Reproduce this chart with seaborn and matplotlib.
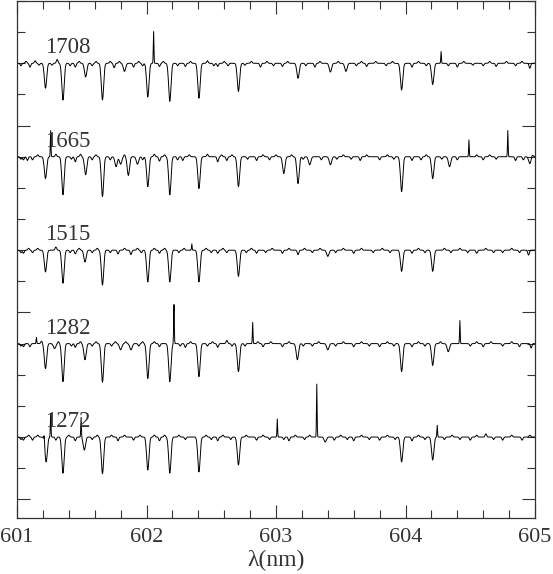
import numpy as np
import pandas as pd
import matplotlib
matplotlib.use("Agg")
import matplotlib.pyplot as plt
from matplotlib.ticker import MultipleLocator
import seaborn as sns

# estrellas y desplazamiento vertical de cada espectro
stars = ["1708", "1665", "1515", "1282", "1272"]
offsets = [7.0, 5.5, 4.0, 2.5, 1.0]

# lineas de absorcion fuertes: (centro nm, profundidad)
strong_1708 = [(601.22, 0.40), (601.355, 0.59), (601.53, 0.22), (601.66, 0.59), (601.83, 0.13),
               (602.01, 0.54), (602.18, 0.61), (602.405, 0.56), (602.71, 0.45), (603.17, 0.24),
               (603.42, 0.14), (603.54, 0.13), (603.97, 0.43), (604.21, 0.34)]
strong_1665 = [(601.22, 0.35), (601.355, 0.61), (601.53, 0.29), (601.66, 0.64), (601.765, 0.16),
               (601.80, 0.12), (601.86, 0.30), (601.93, 0.12), (602.01, 0.48), (602.18, 0.61),
               (602.405, 0.51), (602.71, 0.48), (603.06, 0.27), (603.17, 0.43), (603.26, 0.13),
               (603.42, 0.13), (603.97, 0.56), (604.21, 0.35), (604.34, 0.16), (604.96, 0.11)]
strong_1515 = [(601.22, 0.35), (601.355, 0.53), (601.525, 0.19), (601.66, 0.56), (602.01, 0.51),
               (602.18, 0.51), (602.405, 0.51), (602.71, 0.42), (603.40, 0.10), (603.97, 0.34),
               (604.21, 0.34)]
strong_1282 = [(601.22, 0.40), (601.29, 0.08), (601.355, 0.61), (601.525, 0.26), (601.66, 0.62),
               (601.80, 0.10), (601.88, 0.10), (602.01, 0.56), (602.18, 0.61), (602.405, 0.53),
               (602.71, 0.45), (603.165, 0.26), (603.40, 0.10), (603.97, 0.45), (604.21, 0.35),
               (604.33, 0.13)]
strong_1272 = [(601.225, 0.40), (601.355, 0.58), (601.52, 0.21), (601.66, 0.59), (602.01, 0.53),
               (602.18, 0.58), (602.405, 0.56), (602.71, 0.45), (603.38, 0.08), (603.97, 0.40),
               (604.21, 0.37)]

# rasgos debiles del continuo: (centro nm, profundidad; negativo = sube)
weak_1708 = [(601.03, 0.04), (601.07, -0.03), (601.10, 0.06), (601.14, -0.04), (601.17, 0.03),
             (601.27, 0.03), (601.31, -0.06), (601.41, 0.04), (601.45, 0.06), (601.48, -0.03),
             (601.58, 0.04), (601.61, -0.03), (601.72, -0.03), (601.75, 0.07), (601.79, -0.03),
             (601.90, 0.06), (601.94, -0.03), (601.97, 0.04), (602.10, 0.05), (602.13, -0.03),
             (602.24, 0.04), (602.30, 0.05), (602.34, -0.03), (602.47, -0.04), (602.52, 0.04),
             (602.55, 0.05), (602.60, -0.03), (602.63, 0.04), (602.76, 0.03), (602.81, -0.03),
             (602.88, 0.06), (602.93, -0.03), (602.98, 0.04), (603.05, 0.05), (603.09, -0.03),
             (603.23, 0.04), (603.30, 0.06), (603.34, -0.03), (603.48, -0.03), (603.62, 0.04),
             (603.66, -0.03), (603.70, 0.05), (603.77, -0.03), (603.85, 0.04), (603.90, -0.03),
             (604.05, 0.06), (604.10, -0.03), (604.16, 0.04), (604.33, 0.04), (604.40, 0.06),
             (604.45, -0.03), (604.52, 0.03), (604.60, 0.04), (604.65, -0.03), (604.70, 0.05),
             (604.78, -0.03), (604.85, 0.04), (604.90, -0.03), (604.96, 0.08)]
weak_1665 = [(601.03, 0.04), (601.05, 0.05), (601.08, 0.06), (601.12, 0.05), (601.16, -0.03),
             (601.30, -0.04), (601.42, 0.04), (601.45, 0.08), (601.49, -0.04), (601.58, 0.05),
             (601.61, -0.03), (601.72, 0.05), (601.83, -0.03), (601.97, 0.05), (602.06, -0.04),
             (602.10, 0.07), (602.14, -0.03), (602.24, 0.05), (602.28, 0.06), (602.33, -0.03),
             (602.47, -0.04), (602.55, 0.08), (602.58, -0.03), (602.62, 0.06), (602.66, -0.03),
             (602.78, 0.04), (602.85, 0.06), (602.90, -0.03), (602.95, 0.05), (603.00, -0.03),
             (603.12, -0.03), (603.21, 0.04), (603.35, 0.05), (603.47, 0.04), (603.52, -0.03),
             (603.58, 0.04), (603.65, 0.06), (603.70, -0.03), (603.80, 0.05), (603.86, -0.03),
             (603.91, 0.04), (604.05, 0.06), (604.12, 0.05), (604.16, -0.03), (604.28, 0.04),
             (604.40, 0.05), (604.55, -0.03), (604.60, 0.05), (604.65, -0.03), (604.70, 0.04),
             (604.85, 0.06), (604.91, 0.05), (604.98, -0.03)]
weak_1515 = [(601.03, 0.04), (601.05, 0.05), (601.09, -0.03), (601.12, 0.04), (601.16, -0.03),
             (601.30, -0.05), (601.41, 0.04), (601.45, 0.06), (601.48, -0.03), (601.58, 0.04),
             (601.62, -0.03), (601.72, 0.04), (601.78, 0.06), (601.83, -0.03), (601.88, 0.07),
             (601.93, -0.03), (601.96, 0.04), (602.06, -0.03), (602.10, 0.05), (602.14, -0.03),
             (602.25, 0.04), (602.29, -0.03), (602.46, -0.03), (602.50, 0.04), (602.55, 0.05),
             (602.59, -0.03), (602.62, 0.04), (602.77, 0.04), (602.81, -0.03), (602.85, 0.05),
             (602.92, 0.04), (602.97, -0.03), (603.05, 0.05), (603.10, -0.03), (603.17, 0.07),
             (603.22, -0.03), (603.28, 0.04), (603.34, -0.03), (603.46, 0.04), (603.52, -0.03),
             (603.60, 0.05), (603.66, -0.03), (603.75, 0.04), (603.82, -0.03), (603.88, 0.04),
             (604.05, 0.05), (604.10, -0.03), (604.15, 0.04), (604.30, -0.03), (604.35, 0.04),
             (604.42, -0.03), (604.48, 0.04), (604.55, 0.05), (604.62, -0.03), (604.68, 0.04),
             (604.75, 0.04), (604.82, -0.03), (604.88, 0.04), (604.95, 0.08)]
weak_1282 = [(601.03, 0.04), (601.05, 0.05), (601.10, 0.05), (601.19, -0.04), (601.32, -0.03),
             (601.42, 0.04), (601.45, 0.06), (601.49, -0.03), (601.58, 0.04), (601.61, -0.03),
             (601.73, 0.04), (601.76, -0.03), (601.84, -0.03), (601.94, 0.04), (601.97, -0.03),
             (602.06, -0.03), (602.10, 0.05), (602.26, 0.04), (602.30, 0.06), (602.34, -0.03),
             (602.47, 0.04), (602.51, -0.03), (602.55, 0.06), (602.62, -0.05), (602.66, 0.04),
             (602.76, 0.04), (602.86, -0.03), (602.90, 0.05), (602.96, -0.03), (603.05, 0.05),
             (603.10, -0.03), (603.21, 0.04), (603.28, 0.04), (603.33, -0.03), (603.46, 0.04),
             (603.52, -0.03), (603.60, 0.05), (603.66, -0.03), (603.72, 0.04), (603.80, 0.05),
             (603.86, -0.03), (603.91, 0.04), (604.05, 0.05), (604.10, -0.03), (604.15, 0.04),
             (604.27, -0.03), (604.50, 0.04), (604.55, -0.03), (604.60, 0.05), (604.66, -0.03),
             (604.75, 0.04), (604.82, -0.03), (604.88, 0.05), (604.97, 0.07)]
weak_1272 = [(601.03, 0.04), (601.05, 0.05), (601.09, -0.03), (601.12, 0.05), (601.16, -0.03),
             (601.30, 0.05), (601.40, -0.03), (601.45, 0.06), (601.58, 0.04), (601.62, -0.03),
             (601.73, -0.03), (601.78, 0.06), (601.83, -0.03), (601.90, 0.05), (601.95, -0.03),
             (602.06, -0.03), (602.10, 0.06), (602.14, -0.03), (602.25, -0.03), (602.30, 0.04),
             (602.46, -0.03), (602.50, 0.04), (602.55, 0.06), (602.59, -0.03), (602.65, 0.04),
             (602.77, -0.03), (602.85, 0.05), (602.90, -0.03), (602.95, 0.04), (603.06, 0.04),
             (603.10, 0.06), (603.15, -0.03), (603.22, 0.04), (603.26, -0.03), (603.45, 0.05),
             (603.50, -0.03), (603.55, 0.04), (603.60, 0.06), (603.66, -0.03), (603.72, 0.04),
             (603.80, 0.05), (603.86, -0.03), (603.92, 0.04), (604.05, 0.06), (604.10, -0.03),
             (604.15, 0.04), (604.30, 0.04), (604.36, -0.03), (604.42, 0.04), (604.50, 0.05),
             (604.55, -0.03), (604.62, -0.05), (604.68, 0.04), (604.75, 0.05), (604.82, -0.03),
             (604.90, 0.05), (604.96, -0.03)]

# picos de emision: (centro nm, altura)
emis_1708 = [(602.055, 0.51), (604.275, 0.19)]
emis_1665 = [(601.26, 0.42), (604.49, 0.27), (604.79, 0.42)]
emis_1515 = [(602.35, 0.10)]
emis_1282 = [(601.15, 0.10), (602.212, 0.64), (602.82, 0.34), (604.42, 0.37)]
emis_1272 = [(601.21, 0.12), (601.26, 0.38), (601.495, 0.32), (603.01, 0.29), (603.315, 0.85),
             (604.245, 0.19)]

strong = [strong_1708, strong_1665, strong_1515, strong_1282, strong_1272]
weak = [weak_1708, weak_1665, weak_1515, weak_1282, weak_1272]
emis = [emis_1708, emis_1665, emis_1515, emis_1282, emis_1272]

wl = np.arange(601.0, 605.0001, 0.0025)


def build_flux(strong_lines, weak_lines, emission):
    flux = np.ones_like(wl)
    for c, d in strong_lines:
        flux -= d * np.exp(-0.5 * ((wl - c) / 0.009) ** 2)
    for c, d in weak_lines:
        flux -= d * np.exp(-0.5 * ((wl - c) / 0.006) ** 2)
    for c, h in emission:
        flux += h * np.exp(-0.5 * ((wl - c) / 0.0025) ** 2)
    return flux


frames = []
for name, off, s, w, e in zip(stars, offsets, strong, weak, emis):
    frames.append(pd.DataFrame({"wl": wl, "flux": build_flux(s, w, e) + off - 1.0, "star": name}))
df = pd.concat(frames, ignore_index=True)

sns.set_style("ticks")
plt.rcParams["font.family"] = ["Liberation Serif", "DejaVu Serif"]

fig = plt.figure(figsize=(5.53, 5.74), dpi=100)
ax = fig.add_axes([17 / 553, 1 - 518 / 574, 518 / 553, 517 / 574])

sns.lineplot(data=df, x="wl", y="flux", units="star", estimator=None, color="black",
             lw=0.7, legend=False, ax=ax)

for name, off in zip(stars, offsets):
    ax.text(601.22, off + 0.25, name, fontsize=16.5, color="#333333", va="center", ha="left")

ax.set_xlim(601, 605)
ax.set_ylim(-0.3, 8.0)
ax.xaxis.set_major_locator(MultipleLocator(1))
ax.xaxis.set_minor_locator(MultipleLocator(0.2))
ax.yaxis.set_major_locator(MultipleLocator(3))
ax.yaxis.set_minor_locator(MultipleLocator(0.5))
ax.tick_params(which="both", direction="in", top=True, right=True, color="#333333", width=0.8)
ax.tick_params(which="major", length=9.5)
ax.tick_params(which="minor", length=5.5)
ax.tick_params(axis="x", which="major", labelsize=16, labelcolor="#333333", pad=7)
ax.set_yticklabels([])
ax.set_xlabel("λ(nm)", fontsize=17, color="#333333", labelpad=2)
ax.set_ylabel("")
for sp in ax.spines.values():
    sp.set_color("#333333")
    sp.set_linewidth(0.9)

fig.savefig("out.png", dpi=100)
